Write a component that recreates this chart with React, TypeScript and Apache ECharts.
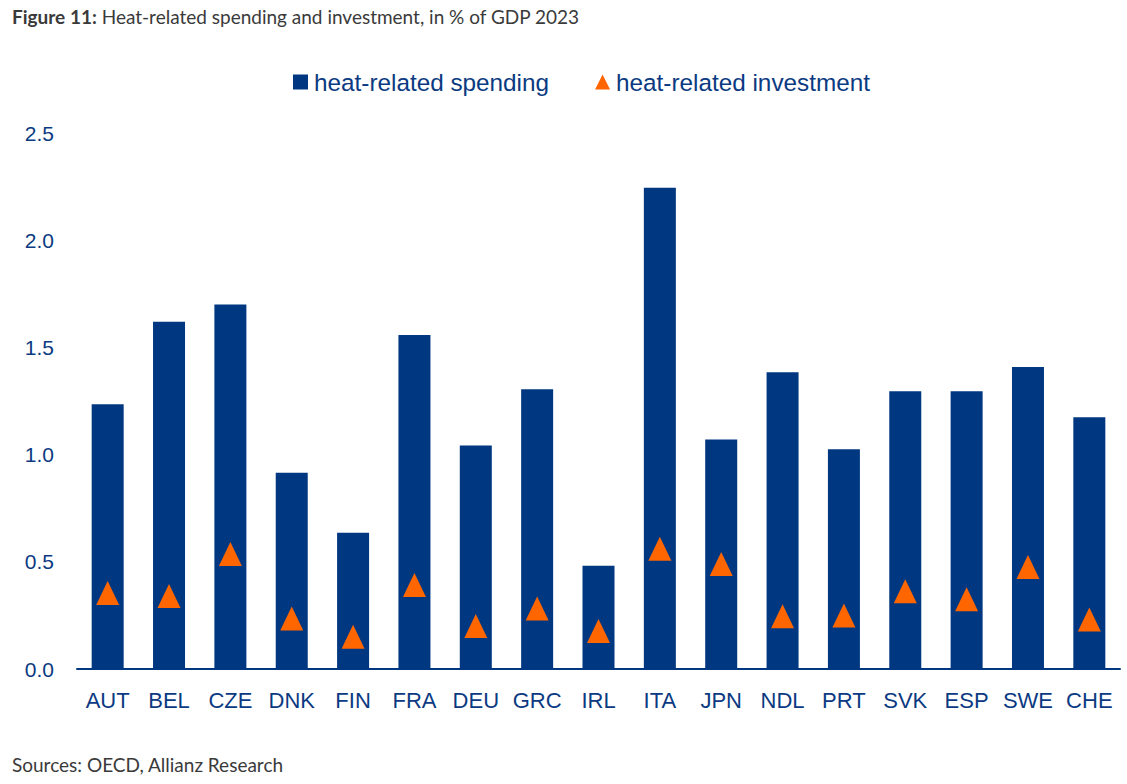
import React, { useEffect, useRef } from "react";
import * as echarts from "echarts";

const categories = ["AUT", "BEL", "CZE", "DNK", "FIN", "FRA", "DEU", "GRC", "IRL", "ITA", "JPN", "NDL", "PRT", "SVK", "ESP", "SWE", "CHE"];
const spending = [1.235, 1.62, 1.70, 0.915, 0.635, 1.558, 1.042, 1.305, 0.482, 2.245, 1.07, 1.384, 1.025, 1.296, 1.296, 1.408, 1.174];
const investment = [0.355, 0.34, 0.536, 0.235, 0.151, 0.392, 0.201, 0.282, 0.177, 0.561, 0.49, 0.246, 0.25, 0.363, 0.325, 0.476, 0.231];
const yTicks = [0, 0.5, 1.0, 1.5, 2.0, 2.5];

const NAVY = "#003781";
const ORANGE = "#FF6600";
const TEXT_BLUE = "#0B3A82";

export default function App() {
  const ref = useRef<HTMLDivElement>(null);
  useEffect(() => {
    if (!ref.current) return;
    const chart = echarts.init(ref.current, null, { renderer: "svg" });
    chart.setOption({
      animation: false,
      backgroundColor: "#ffffff",
      title: [
        {
          text: "{b|Figure 11:} Heat-related spending and investment, in % of GDP 2023",
          left: 7,
          top: 2,
          textStyle: {
            fontFamily: "Lato",
            fontSize: 19,
            fontWeight: "normal",
            color: "#3a3a3a",
            rich: {
              b: { fontFamily: "Lato", fontSize: 19, fontWeight: "bold", color: "#3a3a3a" },
            },
          },
        },
        {
          text: "Sources: OECD, Allianz Research",
          left: 7,
          top: 750,
          textStyle: { fontFamily: "Lato", fontSize: 19, fontWeight: "normal", color: "#3a3a3a" },
        },
      ],
      legend: {
        top: 65,
        left: 288,
        itemGap: 46,
        itemWidth: 15,
        itemHeight: 15,
        textStyle: { fontFamily: "Liberation Sans", fontSize: 24.3, color: TEXT_BLUE, padding: [0, 0, 0, 1] },
        data: [
          { name: "heat-related spending", icon: "rect" },
          { name: "heat-related investment", icon: "triangle" },
        ],
      },
      grid: { left: 77, right: 7, top: 133, bottom: 115, containLabel: false },
      xAxis: {
        type: "category",
        data: categories,
        axisLine: { lineStyle: { color: NAVY, width: 2 } },
        axisTick: { show: false },
        axisLabel: { fontFamily: "Liberation Sans", fontSize: 22, color: TEXT_BLUE, margin: 20, interval: 0 },
      },
      yAxis: {
        type: "value",
        min: 0,
        max: 2.5,
        interval: 0.5,
        splitLine: { show: false },
        axisLine: { show: false },
        axisTick: { show: false },
        axisLabel: {
          fontFamily: "Liberation Sans",
          fontSize: 21,
          color: TEXT_BLUE,
          margin: 23,
          formatter: (v: number) => (yTicks.includes(v) ? v.toFixed(1) : ""),
        },
      },
      series: [
        {
          name: "heat-related spending",
          type: "bar",
          data: spending,
          barWidth: 32,
          itemStyle: { color: NAVY },
        },
        {
          name: "heat-related investment",
          type: "scatter",
          data: investment,
          symbol: "triangle",
          symbolSize: [23, 24],
          itemStyle: { color: ORANGE, opacity: 1 },
          z: 5,
        },
      ],
    });
    return () => chart.dispose();
  }, []);
  return <div ref={ref} style={{ position: "absolute", left: 0, top: 0, width: 1127, height: 784 }} />;
}
